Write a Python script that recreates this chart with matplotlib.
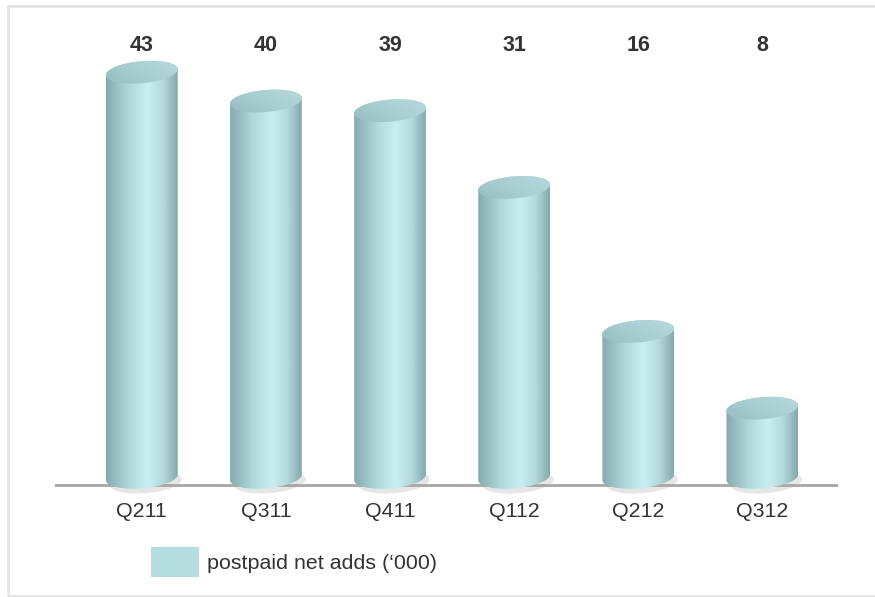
import numpy as np
import matplotlib
matplotlib.use('Agg')
import matplotlib.pyplot as plt
from matplotlib.patches import Polygon, Rectangle, Patch
from matplotlib.colors import LinearSegmentedColormap

# chart data
quarters = ['Q211', 'Q311', 'Q411', 'Q112', 'Q212', 'Q312']
net_adds = [43, 40, 39, 31, 16, 8]
legend_label = 'postpaid net adds (\u2018000)'

plt.rcParams['font.family'] = ['Liberation Sans', 'DejaVu Sans']

W, H = 875, 597
fig = plt.figure(figsize=(W / 100, H / 100), dpi=100)

# light grey frame round the slide (right edge runs off the picture)
fig.add_artist(Rectangle((7.5 / W, 1.5 / H), 880 / W, 590 / H, transform=fig.transFigure,
                         fill=False, ec='#e4e4e4', lw=2))

# axes reach a little below zero so the round base of each cylinder is not clipped
ymin, ymax = -3, 50
xmin, xmax = -0.70, 5.61
px_y = 9.6
ax = fig.add_axes([55 / W, (112 - 3 * px_y) / H, 783 / W, (ymax - ymin) * px_y / H])
ax.set_xlim(xmin, xmax)
ax.set_ylim(ymin, ymax)
ax.axis('off')

# pixels per data unit, used to keep the cylinder ellipses round on screen
px_x = 783 / (xmax - xmin)

body_cmap = LinearSegmentedColormap.from_list(
    'body', [(0, '#86abae'), (0.3, '#aed5d8'), (0.58, '#c8eff1'), (0.8, '#b3d9dc'), (1, '#82a9ac')])
top_cmap = LinearSegmentedColormap.from_list('top', ['#93b9bc', '#a9cfd2', '#b8dcdf'])

a_px, b_px, tilt = 36, 11, np.radians(5)
base = 0.8


def ellipse_pts(cx, cy, t):
    dx = a_px * np.cos(t) * np.cos(tilt) - b_px * np.sin(t) * np.sin(tilt)
    dy = a_px * np.cos(t) * np.sin(tilt) + b_px * np.sin(t) * np.cos(tilt)
    return np.column_stack([cx + dx / px_x, cy + dy / px_y])


ax.axhline(0, color='#a6a6a6', lw=2, zorder=1)

grad = np.linspace(0, 1, 256).reshape(1, -1)
for i, v in enumerate(net_adds):
    hw = a_px / px_x
    # faint shadow under the base
    sh = ellipse_pts(i + 0.03, base - 0.5, np.linspace(0, 2 * np.pi, 100))
    ax.add_patch(Polygon(sh, closed=True, fc='#e6e6e6', ec='none', zorder=0.5))

    # cylinder body
    lower = ellipse_pts(i, base, np.linspace(np.pi, 2 * np.pi, 60))
    upper = ellipse_pts(i, v, np.linspace(0, np.pi, 60))
    body = Polygon(np.vstack([lower, upper]), closed=True, fc='none', ec='none',
                   transform=ax.transData)
    im = ax.imshow(grad, cmap=body_cmap, aspect='auto', interpolation='bicubic',
                   extent=[i - hw, i + hw, -3, v + 3], zorder=3)
    im.set_clip_path(body)

    # cylinder top
    top = Polygon(ellipse_pts(i, v, np.linspace(0, 2 * np.pi, 120)), closed=True,
                  fc='none', ec='none', transform=ax.transData)
    tg = np.add.outer(np.linspace(0, 1, 32), np.linspace(0, 1, 32)) / 2
    im2 = ax.imshow(tg, cmap=top_cmap, aspect='auto', interpolation='bicubic', origin='lower',
                    extent=[i - hw, i + hw, v - 2, v + 2], zorder=4)
    im2.set_clip_path(top)

    ax.text(i, 45.8, str(v), ha='center', va='center', fontsize=15.5,
            fontweight='bold', color='#333333')
    ax.text(i, -2.75, quarters[i], ha='center', va='center', fontsize=15.4,
            color='#333333')

ax.set_xlim(xmin, xmax)
ax.set_ylim(ymin, ymax)

fig.legend(handles=[Patch(fc='#b4dde0', ec='none', label=legend_label)],
           loc='center left', bbox_to_anchor=(151 / W, 1 - 562 / H), frameon=False,
           fontsize=15.4, handlelength=2.25, handleheight=1.78, handletextpad=0.36,
           borderpad=0, borderaxespad=0, labelcolor='#333333')

fig.savefig('out.png', dpi=100)
